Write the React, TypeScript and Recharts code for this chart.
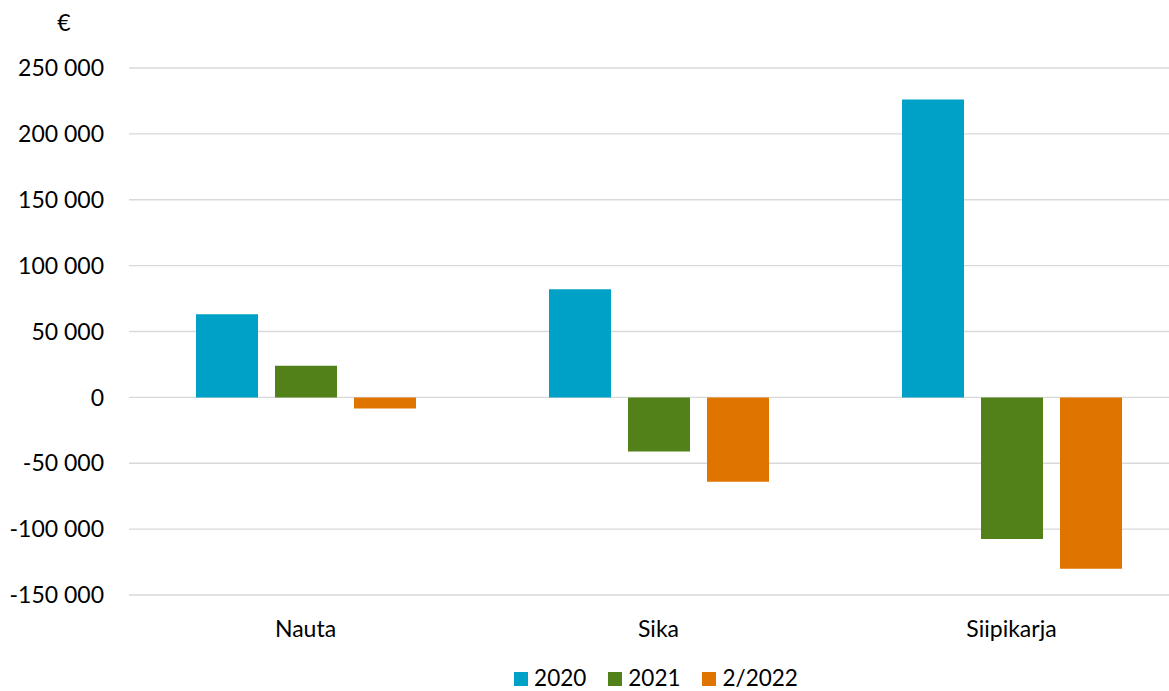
import React from 'react';
import { BarChart, Bar, XAxis, YAxis, CartesianGrid, Legend } from 'recharts';

const categories = ['Nauta', 'Sika', 'Siipikarja'];
const values2020 = [63000, 82000, 226000];
const values2021 = [24000, -41000, -107500];
const values2022 = [-8500, -64000, -130000];
const yTicks = [-150000, -100000, -50000, 0, 50000, 100000, 150000, 200000, 250000];
const seriesNames = ['2020', '2021', '2/2022'];
const seriesKeys = ['v2020', 'v2021', 'v2022'];
const seriesColors = ['#00A1C6', '#52811A', '#E07400'];

const data = categories.map((c, i) => ({
  name: c,
  v2020: values2020[i],
  v2021: values2021[i],
  v2022: values2022[i],
}));

const FONT = 'Lato, "Open Sans", sans-serif';

const fmt = (v: number) => {
  const s = Math.abs(v).toString().replace(/\B(?=(\d{3})+(?!\d))/g, ' ');
  return (v < 0 ? '-' : '') + s;
};

const LegendContent = () => (
  <div style={{ display: 'flex', justifyContent: 'center', alignItems: 'flex-start', fontFamily: FONT, fontSize: 22.5, color: '#000', height: 19 }}>
    {seriesNames.map((n, i) => (
      <div key={n} style={{ display: 'flex', alignItems: 'flex-start', marginRight: i < seriesNames.length - 1 ? 22 : 0 }}>
        <span style={{ display: 'inline-block', width: 14, height: 14, background: seriesColors[i], marginRight: 6, marginTop: 4 }} />
        <span style={{ lineHeight: '19px', display: 'inline-block', height: 19 }}>{n}</span>
      </div>
    ))}
  </div>
);

const EuroLabel = (props: any) => {
  const vb = props.viewBox || { x: 0, y: 0 };
  return (
    <text x={vb.x + 64} y={vb.y - 37} textAnchor="middle" fontFamily={FONT} fontSize={23} fill="#000">
      €
    </text>
  );
};

export default function App() {
  return (
    <div style={{ position: 'absolute', left: 0, top: 0, width: 1169, height: 691, overflow: 'hidden', background: '#fff' }}>
      <BarChart
        width={1200}
        height={691}
        data={data}
        margin={{ top: 68, right: 12, bottom: 56, left: 0 }}
        barSize={62}
        barGap={17}
      >
        <CartesianGrid vertical={false} stroke="#d9d9d9" strokeWidth={1.3} />
        <XAxis
          dataKey="name"
          axisLine={false}
          tickLine={false}
          tickSize={0}
          tickMargin={26}
          height={40}
          tick={{ fontFamily: FONT, fontSize: 23, fill: '#000' }}
        />
        <YAxis
          width={129}
          domain={[-150000, 250000]}
          ticks={yTicks}
          axisLine={false}
          tickLine={false}
          tickSize={0}
          tickMargin={25}
          tickFormatter={fmt}
          tick={{ fontFamily: FONT, fontSize: 23, fill: '#000' }}
          label={<EuroLabel />}
        />
        <Legend
          verticalAlign="middle"
          layout="horizontal"
          content={<LegendContent />}
          wrapperStyle={{ position: 'absolute', top: 668, left: 400, width: 512, height: 19 }}
        />
        {seriesKeys.map((k, i) => (
          <Bar key={k} dataKey={k} name={seriesNames[i]} fill={seriesColors[i]} isAnimationActive={false} />
        ))}
      </BarChart>
    </div>
  );
}
